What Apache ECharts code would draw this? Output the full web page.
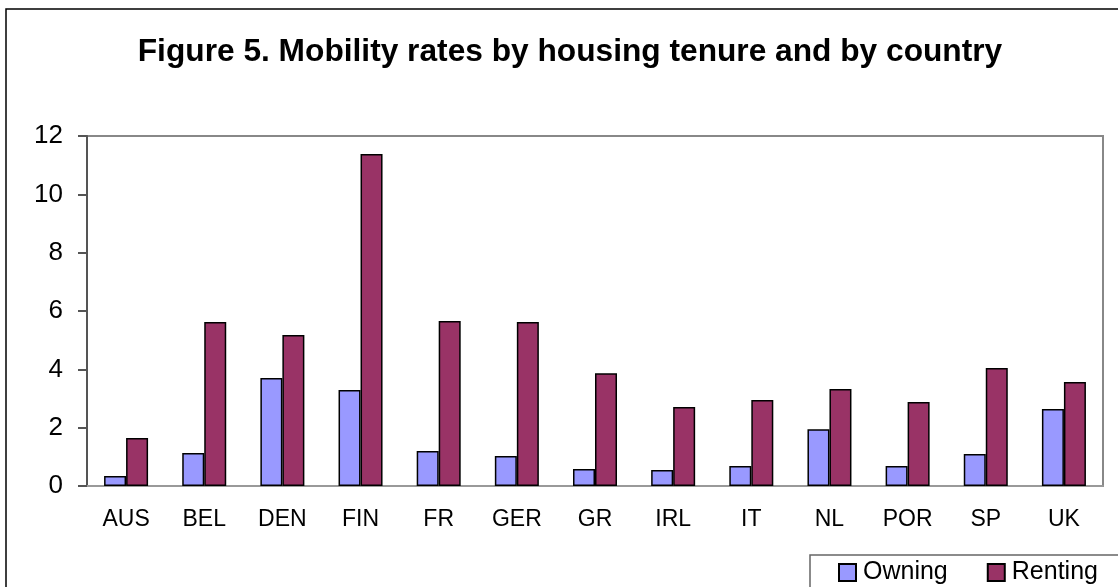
<!DOCTYPE html>
<html><head><meta charset="utf-8">
<script src="https://cdn.jsdelivr.net/npm/echarts@6/dist/echarts.min.js"></script>
<style>html,body{margin:0;padding:0;background:#fff}#c{width:1118px;height:587px}</style>
</head><body><div id="c"></div>
<script>
const categories = ['AUS','BEL','DEN','FIN','FR','GER','GR','IRL','IT','NL','POR','SP','UK'];
const owning = [0.34, 1.13, 3.70, 3.29, 1.20, 1.03, 0.58, 0.55, 0.69, 1.95, 0.69, 1.10, 2.64];
const renting = [1.65, 5.62, 5.18, 11.38, 5.66, 5.62, 3.87, 2.71, 2.95, 3.33, 2.88, 4.05, 3.57];
const yTicks = [0, 2, 4, 6, 8, 10, 12];
const titleText = 'Figure 5. Mobility rates by housing tenure and by country';

const chart = echarts.init(document.getElementById('c'), null, {renderer:'canvas'});
const font = 'Liberation Sans, Arial, sans-serif';
chart.setOption({
  animation:false,
  backgroundColor:'#fff',
  title:{text:titleText,left:565,top:31,textAlign:'center',textStyle:{fontFamily:font,fontWeight:'bold',fontSize:31.7,color:'#000'}},
  graphic:[
    {type:'rect',shape:{x:6,y:9,width:1200,height:700},style:{fill:null,stroke:'#000',lineWidth:1.5},silent:true,z:-1},
    {type:'rect',shape:{x:810,y:555,width:400,height:100},style:{fill:'#fff',stroke:'#666',lineWidth:1.5},silent:true,z:0}
  ],
  legend:{left:833,top:555,itemWidth:17,itemHeight:17,itemGap:39,icon:'rect',
    textStyle:{fontFamily:font,fontSize:25,color:'#000',padding:[0,0,0,2]},
    data:['Owning','Renting'],z:5},
  grid:{left:87,right:15,top:136,bottom:101,show:true,borderColor:'#888',borderWidth:2,backgroundColor:'#fff'},
  xAxis:{type:'category',data:categories,
    axisLine:{show:true,lineStyle:{color:'#999',width:2}},
    axisTick:{show:false},
    axisLabel:{fontFamily:font,fontSize:23,color:'#000',margin:22}},
  yAxis:{type:'value',min:yTicks[0],max:yTicks[yTicks.length-1],interval:2,
    axisLine:{show:true,lineStyle:{color:'#555',width:2}},
    axisTick:{show:true,length:9,lineStyle:{color:'#555',width:2}},
    splitLine:{show:false},
    axisLabel:{fontFamily:font,fontSize:26,color:'#000',margin:24}},
  series:[
    {name:'Owning',type:'bar',data:owning,barWidth:22,barGap:'0%',
      itemStyle:{color:'#9999FF',borderColor:'#000',borderWidth:1.5}},
    {name:'Renting',type:'bar',data:renting,barWidth:22,barGap:'0%',
      itemStyle:{color:'#993366',borderColor:'#000',borderWidth:1.5}}
  ]
});
</script></body></html>
